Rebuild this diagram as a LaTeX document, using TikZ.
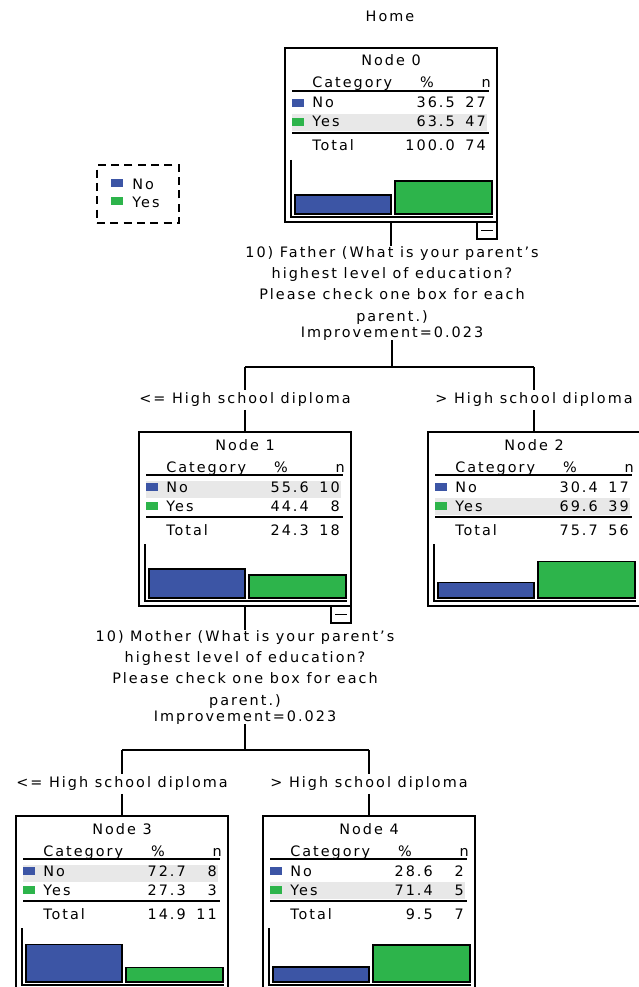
\documentclass[tikz,border=0pt]{standalone}
\usepackage{fontspec}
\setmainfont{DejaVu Sans}[LetterSpace=14]
\usetikzlibrary{positioning}
\definecolor{noblue}{RGB}{60,85,165}
\definecolor{yesgreen}{RGB}{45,180,75}
\definecolor{rowgray}{RGB}{232,232,232}
\tikzset{
  treebox/.style={draw, line width=1.3pt, anchor=north west, minimum width=159pt,
    minimum height=130.5pt, inner sep=0pt, outer sep=0pt},
  txt/.style={inner sep=0pt, font=\fontsize{10.8pt}{12pt}\selectfont},
  question/.style={txt, align=center, anchor=north, font=\fontsize{10.8pt}{16pt}\selectfont},
  split/.style={txt, inner sep=2pt},
  rule/.style={line width=1.1pt},
  edge/.style={line width=1.1pt},
  bar/.style={draw, line width=1pt},
  minusbox/.style={draw, line width=1pt, anchor=north east, minimum width=15pt,
    minimum height=12.75pt, inner sep=0pt, outer sep=0pt},
}

\begin{document}
\begin{tikzpicture}[x=0.75pt,y=-0.75pt]
    \useasboundingbox (0,0) rectangle (638,987);

    \node[txt] (home) at (390,16) {Home};

    % legend
    \node[draw, dashed, dash pattern=on 6pt off 4pt, line width=1pt, minimum width=61.5pt,
      minimum height=43.5pt] (legend) at (138,194) {};
    \fill[noblue] (111,179) rectangle (123,187);
    \node[txt, anchor=west] (legend-no) at (132,184) {No};
    \fill[yesgreen] (111,197) rectangle (123,205);
    \node[txt, anchor=west] (legend-yes) at (132,202) {Yes};

    % tree nodes
    \foreach \nm/\bx/\by/\ttl/\np/\nn/\yp/\yn/\tp/\tn/\sh in {
        n0/285/48/0/36.5/27/63.5/47/100.0/74/66,
        n1/139/432/1/55.6/10/44.4/8/24.3/18/49,
        n2/428/432/2/30.4/17/69.6/39/75.7/56/66,
        n3/16/816/3/72.7/8/27.3/3/14.9/11/49,
        n4/263/816/4/28.6/2/71.4/5/9.5/7/66} {
        \node[treebox] (\nm) at (\bx,\by) {};
        \fill[rowgray] (\bx+7,\by+\sh) rectangle (\bx+202,\by+\sh+17);
        \node[txt, anchor=base] (\nm-title) at (\bx+106,\by+18) {Node \ttl};
        \node[txt, anchor=base west] (\nm-cat) at (\bx+27,\by+40) {Category};
        \node[txt, anchor=base] (\nm-pct) at (\bx+142,\by+40) {\%};
        \node[txt, anchor=base east] (\nm-n) at (\bx+206,\by+40) {n};
        \draw[rule] (\bx+7,\by+43) -- (\bx+204,\by+43);
        \fill[noblue] (\bx+7,\by+51) rectangle (\bx+19,\by+59);
        \node[txt, anchor=base west] (\nm-no) at (\bx+27,\by+60) {No};
        \node[txt, anchor=base east] (\nm-nop) at (\bx+170,\by+60) {\np};
        \node[txt, anchor=base east] (\nm-non) at (\bx+201,\by+60) {\nn};
        \fill[yesgreen] (\bx+7,\by+70) rectangle (\bx+19,\by+78);
        \node[txt, anchor=base west] (\nm-yes) at (\bx+27,\by+79) {Yes};
        \node[txt, anchor=base east] (\nm-yesp) at (\bx+170,\by+79) {\yp};
        \node[txt, anchor=base east] (\nm-yesn) at (\bx+201,\by+79) {\yn};
        \draw[rule] (\bx+7,\by+85) -- (\bx+204,\by+85);
        \node[txt, anchor=base west] (\nm-total) at (\bx+27,\by+103) {Total};
        \node[txt, anchor=base east] (\nm-totp) at (\bx+170,\by+103) {\tp};
        \node[txt, anchor=base east] (\nm-totn) at (\bx+201,\by+103) {\tn};
        \draw[rule] (\bx+6,\by+112) |- (\bx+208,\by+169);
        \draw[bar, fill=noblue] (\bx+10,\by+166) rectangle (\bx+106,{\by+166-0.52*\np});
        \draw[bar, fill=yesgreen] (\bx+110,\by+166) rectangle (\bx+207,{\by+166-0.52*\yp});
    }

    % first split
    \node[minusbox] (n0-minus) at (n0.south east) {};
    \draw[line width=1pt] ([xshift=3pt]n0-minus.west) -- ([xshift=-3pt]n0-minus.east);
    \node[question] (q0) at (392,246)
      {10) Father (What is your parent’s\\highest level of education?\\Please check one box for each\\parent.)\\[-4pt]Improvement=0.023};
    \coordinate (j0) at (392,367);
    \draw[edge] (n0.south) -- (n0.south |- q0.north);
    \draw[edge] (q0.south) -- (q0.south |- j0);
    \draw[edge] (n1.north |- j0) -- (n2.north |- j0);
    \node[split] (s1) at (245,400) {<= High school diploma};
    \node[split] (s2) at (534,400) {> High school diploma};
    \draw[edge] (n1.north |- j0) -- (s1.north);
    \draw[edge] (s1.south) -- (n1.north);
    \draw[edge] (n2.north |- j0) -- (s2.north);
    \draw[edge] (s2.south) -- (n2.north);

    % second split
    \node[minusbox] (n1-minus) at (n1.south east) {};
    \draw[line width=1pt] ([xshift=3pt]n1-minus.west) -- ([xshift=-3pt]n1-minus.east);
    \node[question] (q1) at (245,630)
      {10) Mother (What is your parent’s\\highest level of education?\\Please check one box for each\\parent.)\\[-4pt]Improvement=0.023};
    \coordinate (j1) at (245,750);
    \draw[edge] (n1.south) -- (n1.south |- q1.north);
    \draw[edge] (q1.south) -- (q1.south |- j1);
    \draw[edge] (n3.north |- j1) -- (n4.north |- j1);
    \node[split] (s3) at (122,784) {<= High school diploma};
    \node[split] (s4) at (369,784) {> High school diploma};
    \draw[edge] (n3.north |- j1) -- (s3.north);
    \draw[edge] (s3.south) -- (n3.north);
    \draw[edge] (n4.north |- j1) -- (s4.north);
    \draw[edge] (s4.south) -- (n4.north);
\end{tikzpicture}
\end{document}
